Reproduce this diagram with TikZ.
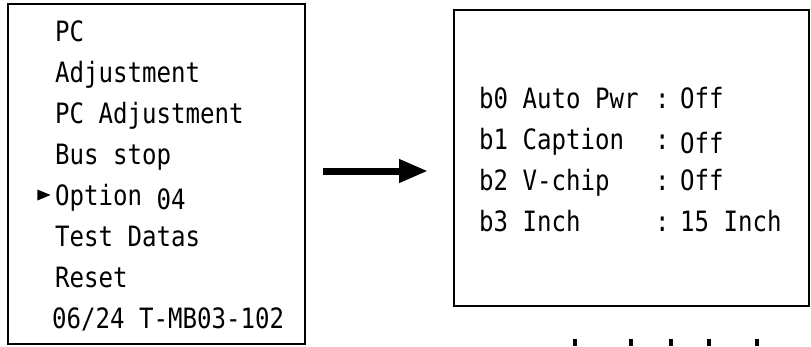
\documentclass[tikz,border=0pt]{standalone}
\usepackage{fontspec}
\newfontfamily\osdfont[FakeStretch=0.86]{DejaVu Sans Mono}
\usetikzlibrary{arrows.meta,shapes.geometric}
\tikzset{
  screen/.style={draw, line width=1.6pt, inner sep=0pt},
  osd/.style={anchor=base west, inner sep=0pt, font=\osdfont\fontsize{28}{28}\selectfont},
  bigarrow/.style={line width=7pt, -{Triangle[length=29pt,width=22pt]}},
}
\begin{document}
\begin{tikzpicture}[x=1pt,y=-1pt]
  \useasboundingbox (0,0) rectangle (811,346);
  % the two screens
  \node[screen, minimum width=297pt, minimum height=340pt] (menu) at (156.5,174) {};
  \node[screen, minimum width=355pt, minimum height=296pt] (option) at (631.5,158) {};
  % service menu
  \foreach \t/\y [count=\i] in {PC/41, Adjustment/82, PC\ Adjustment/123, Bus stop/164, Test Datas/246, Reset/287}
    \node[osd] (m\i) at (55,\y) {\t};
  \node[osd] (opt) at (55,205) {Option \raisebox{-4pt}{04}};
  \node[osd] (ver) at (52,328) {06/24 T-MB03-102};
  \node[isosceles triangle, fill, inner sep=0pt, minimum height=13pt, minimum width=11pt] (cursor) at (41,195) {};
  % option bits
  \foreach \t/\v/\y [count=\i] in {b0 Auto Pwr/Off/108, b1 Caption/\raisebox{-4pt}{Off}/149, b2 V-chip/Off/190, b3 Inch/15 Inch/231} {
    \node[osd] (b\i) at (479,\y) {\t};
    \node[osd] (c\i) at (655,\y) {:};
    \node[osd] (v\i) at (680,\y) {\v};
  }
  \coordinate (from) at (323,171);
  \coordinate (to) at (428,171);
  \draw[bigarrow] (from) -- (to);
  \foreach \x in {575,631,671,709,757}
    \draw[line width=4pt] (\x,339) -- (\x,346);
\end{tikzpicture}
\end{document}
